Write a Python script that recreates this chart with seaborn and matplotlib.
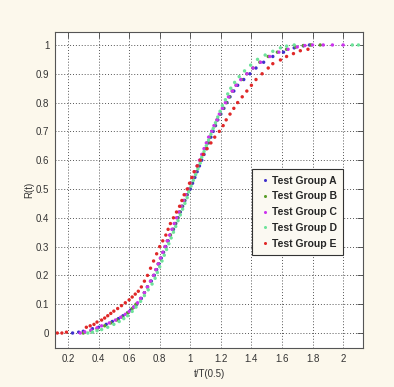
import matplotlib
matplotlib.use("Agg")
import matplotlib.pyplot as plt
import seaborn as sns
import pandas as pd

# === data (t/T(0.5) vs R(t)) ===

group_names = ["Test Group A", "Test Group B", "Test Group C", "Test Group D", "Test Group E"]
group_colors = ["#4030cc", "#5a9e2a", "#cc33ee", "#6ee39a", "#e02828"]

a_t = [0.23, 0.27, 0.30, 0.36, 0.40, 0.45, 0.49, 0.53, 0.56, 0.59, 0.61, 0.63, 0.65,
       0.68, 0.70, 0.72, 0.745, 0.765, 0.78, 0.795, 0.81, 0.825, 0.84, 0.855, 0.87,
       0.89, 0.905, 0.92, 0.935, 0.95, 0.965, 0.98, 1.0, 1.015, 1.03, 1.045, 1.06,
       1.075, 1.09, 1.105, 1.12, 1.135, 1.15, 1.165, 1.18, 1.20, 1.22, 1.24, 1.26,
       1.285, 1.31, 1.35, 1.39, 1.43, 1.48, 1.54, 1.61, 1.68, 1.74, 1.78]
a_r = [0.0, 0.003, 0.006, 0.015, 0.02, 0.03, 0.04, 0.05, 0.06, 0.07, 0.08, 0.09, 0.10,
       0.12, 0.14, 0.16, 0.18, 0.20, 0.22, 0.24, 0.26, 0.28, 0.30, 0.32, 0.34,
       0.36, 0.38, 0.40, 0.42, 0.44, 0.46, 0.48, 0.50, 0.52, 0.54, 0.56, 0.58,
       0.60, 0.62, 0.64, 0.66, 0.68, 0.70, 0.72, 0.74, 0.76, 0.78, 0.80, 0.82,
       0.84, 0.86, 0.88, 0.90, 0.92, 0.94, 0.96, 0.975, 0.99, 0.997, 1.0]

b_t = [0.30, 0.35, 0.39, 0.44, 0.48, 0.52, 0.555, 0.59, 0.62, 0.645, 0.675, 0.70,
       0.72, 0.74, 0.76, 0.775, 0.79, 0.805, 0.82, 0.835, 0.85, 0.87, 0.885, 0.90,
       0.915, 0.93, 0.945, 0.96, 0.975, 0.99, 1.005, 1.02, 1.035, 1.05, 1.065, 1.08,
       1.095, 1.11, 1.125, 1.14, 1.16, 1.175, 1.195, 1.215, 1.235, 1.255, 1.275, 1.30,
       1.335, 1.37, 1.41, 1.455, 1.51, 1.57, 1.63, 1.69, 1.74, 1.79, 1.85]
b_r = [0.0, 0.008, 0.015, 0.025, 0.035, 0.045, 0.055, 0.07, 0.085, 0.10, 0.12, 0.14,
       0.16, 0.18, 0.20, 0.22, 0.24, 0.26, 0.28, 0.30, 0.32, 0.34, 0.36, 0.38,
       0.40, 0.42, 0.44, 0.46, 0.48, 0.50, 0.52, 0.54, 0.56, 0.58, 0.60, 0.62,
       0.64, 0.66, 0.68, 0.70, 0.72, 0.74, 0.76, 0.78, 0.80, 0.82, 0.84, 0.86,
       0.88, 0.90, 0.92, 0.94, 0.96, 0.975, 0.985, 0.993, 0.998, 1.0, 1.0]

c_t = [0.28, 0.31, 0.35, 0.39, 0.42, 0.47, 0.51, 0.545, 0.575, 0.60, 0.63, 0.655,
       0.675, 0.70, 0.72, 0.74, 0.76, 0.775, 0.79, 0.805, 0.82, 0.835, 0.85, 0.865,
       0.88, 0.895, 0.91, 0.925, 0.94, 0.955, 0.97, 0.985, 1.0, 1.015, 1.03, 1.045,
       1.06, 1.075, 1.09, 1.105, 1.12, 1.14, 1.155, 1.175, 1.19, 1.21, 1.23, 1.25,
       1.275, 1.30, 1.33, 1.37, 1.41, 1.46, 1.52, 1.58, 1.64, 1.70, 1.75, 1.80,
       1.87, 1.93, 2.0]
c_r = [0.0, 0.004, 0.01, 0.018, 0.025, 0.035, 0.045, 0.055, 0.065, 0.075, 0.09, 0.105,
       0.12, 0.14, 0.16, 0.18, 0.20, 0.22, 0.24, 0.26, 0.28, 0.30, 0.32, 0.34,
       0.36, 0.38, 0.40, 0.42, 0.44, 0.46, 0.48, 0.50, 0.52, 0.54, 0.56, 0.58,
       0.60, 0.62, 0.64, 0.66, 0.68, 0.70, 0.72, 0.74, 0.76, 0.78, 0.80, 0.82,
       0.84, 0.86, 0.88, 0.90, 0.92, 0.94, 0.96, 0.975, 0.985, 0.993, 0.998, 1.0,
       1.0, 1.0, 1.0]

d_t = [0.33, 0.36, 0.39, 0.42, 0.46, 0.50, 0.535, 0.565, 0.59, 0.62, 0.645, 0.675,
       0.70, 0.725, 0.75, 0.77, 0.785, 0.80, 0.815, 0.83, 0.845, 0.86, 0.875, 0.89,
       0.905, 0.92, 0.935, 0.95, 0.965, 0.98, 0.99, 1.005, 1.02, 1.035, 1.05, 1.065,
       1.075, 1.09, 1.105, 1.12, 1.135, 1.15, 1.165, 1.18, 1.195, 1.21, 1.23, 1.245,
       1.265, 1.29, 1.32, 1.355, 1.395, 1.44, 1.49, 1.54, 1.59, 1.63, 1.68, 2.06, 2.10]
d_r = [0.0, 0.003, 0.008, 0.012, 0.02, 0.03, 0.04, 0.05, 0.06, 0.075, 0.09, 0.11,
       0.13, 0.15, 0.17, 0.19, 0.21, 0.23, 0.25, 0.27, 0.29, 0.31, 0.33, 0.35,
       0.37, 0.39, 0.41, 0.43, 0.45, 0.47, 0.49, 0.51, 0.53, 0.55, 0.57, 0.59,
       0.61, 0.63, 0.65, 0.67, 0.69, 0.71, 0.73, 0.75, 0.77, 0.79, 0.81, 0.83,
       0.85, 0.87, 0.89, 0.91, 0.93, 0.95, 0.965, 0.978, 0.99, 0.996, 1.0, 1.0, 1.0]

e_t = [0.13, 0.16, 0.19, 0.32, 0.345, 0.37, 0.39, 0.42, 0.44, 0.46, 0.48, 0.50,
       0.525, 0.55, 0.575, 0.60, 0.62, 0.64, 0.66, 0.68, 0.70, 0.72, 0.74, 0.76,
       0.78, 0.80, 0.82, 0.84, 0.855, 0.87, 0.89, 0.91, 0.93, 0.945, 0.96,
       0.98, 0.995, 1.01, 1.025, 1.045, 1.065, 1.085, 1.11, 1.135, 1.16, 1.19, 1.215,
       1.235, 1.26, 1.285, 1.31, 1.34, 1.37, 1.40, 1.43, 1.47, 1.51, 1.54, 1.59,
       1.63, 1.675, 1.72, 1.77]
e_r = [0.0, 0.0, 0.003, 0.02, 0.025, 0.03, 0.038, 0.045, 0.052, 0.06, 0.068, 0.076,
       0.085, 0.095, 0.105, 0.115, 0.125, 0.135, 0.145, 0.16, 0.18, 0.20, 0.225, 0.25,
       0.275, 0.30, 0.32, 0.34, 0.36, 0.38, 0.40, 0.42, 0.44, 0.46, 0.48,
       0.50, 0.52, 0.54, 0.56, 0.58, 0.60, 0.62, 0.64, 0.66, 0.68, 0.70, 0.72,
       0.74, 0.76, 0.78, 0.80, 0.82, 0.84, 0.86, 0.88, 0.90, 0.92, 0.935, 0.948,
       0.96, 0.97, 0.98, 0.985]

x_ticks = [0.2, 0.4, 0.6, 0.8, 1.0, 1.2, 1.4, 1.6, 1.8, 2.0]
x_tick_labels = ["0.2", "0.4", "0.6", "0.8", "1", "1.2", "1.4", "1.6", "1.8", "2"]
y_ticks = [0.0, 0.1, 0.2, 0.3, 0.4, 0.5, 0.6, 0.7, 0.8, 0.9, 1.0]
y_tick_labels = ["0", "0.1", "0.2", "0.3", "0.4", "0.5", "0.6", "0.7", "0.8", "0.9", "1"]

# === long table for seaborn ===

series = [(a_t, a_r), (b_t, b_r), (c_t, c_r), (d_t, d_r), (e_t, e_r)]
frames = []
for name, (t, r) in zip(group_names, series):
    frames.append(pd.DataFrame({"t": t, "R": r, "group": name}))
df = pd.concat(frames, ignore_index=True)

sns.set_theme(style="white")
plt.rcParams["font.family"] = ["Liberation Sans", "DejaVu Sans"]

fig = plt.figure(figsize=(3.94, 3.87), dpi=100, facecolor="#fcf8ec")
ax = fig.add_axes([0.1396, 0.1008, 0.7817, 0.8165])
ax.set_facecolor("white")

sns.scatterplot(data=df, x="t", y="R", hue="group", hue_order=group_names,
                palette=group_colors, s=6, linewidth=0, ax=ax)

ax.set_xlim(0.115, 2.13)
ax.set_ylim(-0.052, 1.045)
ax.set_xticks(x_ticks)
ax.set_xticklabels(x_tick_labels)
ax.set_yticks(y_ticks)
ax.set_yticklabels(y_tick_labels)
ax.grid(True, linestyle=(0, (1, 2)), color="#555555", linewidth=0.7)
ax.tick_params(direction="in", top=True, right=True, length=4, width=0.6,
               labelsize=7, labelcolor="#333333", color="#444444", pad=4)
for sp in ax.spines.values():
    sp.set_color("#555555")
    sp.set_linewidth(0.8)

ax.set_xlabel("t/T(0.5)", fontsize=7, color="#333333", labelpad=4)
ax.set_ylabel("R(t)", fontsize=7, color="#333333", labelpad=1)

handles, labels = ax.get_legend_handles_labels()
leg = ax.legend(handles, labels, loc="upper left", bbox_to_anchor=(0.64, 0.565),
                borderaxespad=0, frameon=True, fancybox=False,
                prop={"size": 7.5, "weight": "bold"}, handletextpad=0.1,
                handlelength=1.2, labelspacing=0.55, markerscale=0.9,
                borderpad=0.6)
leg.get_frame().set_facecolor("#fbf9f2")
leg.get_frame().set_edgecolor("#333333")
leg.get_frame().set_linewidth(0.8)
leg.get_frame().set_alpha(1)

fig.savefig("out.png", dpi=100, facecolor=fig.get_facecolor())
